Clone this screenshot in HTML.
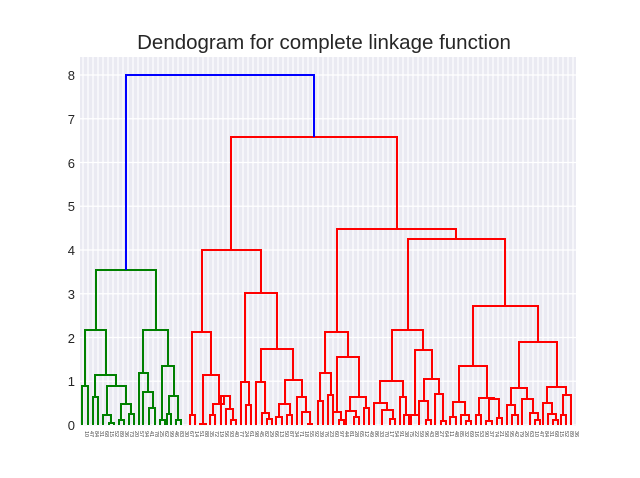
<!DOCTYPE html>
<html><head><meta charset="utf-8"><style>
html,body{margin:0;padding:0;background:#fff;}
svg{display:block;}
</style></head><body>
<svg id="s" width="640" height="478" xmlns="http://www.w3.org/2000/svg" font-family="Liberation Sans, sans-serif">
<rect x="80" y="57" width="496" height="369" fill="#eaeaf2"/>
<g id="grid" stroke="#fff" stroke-width="1.2"></g>
<g id="lines" fill="none" stroke-width="2"></g>
<g id="labs" fill="#262626" font-size="13" text-anchor="end">
<text x="75" y="430">0</text><text x="75" y="386">1</text><text x="75" y="343">2</text><text x="75" y="299">3</text><text x="75" y="255">4</text><text x="75" y="211">5</text><text x="75" y="168">6</text><text x="75" y="124">7</text><text x="75" y="80">8</text>
</g>
<g id="leaf" fill="#444" font-size="5.5"></g>
<text x="324" y="49" font-size="20.5" fill="#262626" text-anchor="middle">Dendogram for complete linkage function</text>
</svg>
<script>
var NS="http://www.w3.org/2000/svg";
function el(p,t,a){var e=document.createElementNS(NS,t);for(var k in a)e.setAttribute(k,a[k]);p.appendChild(e);return e;}
var g=document.getElementById('grid');
for(var k=0;k<=8;k++){var y=425-43.75*k;el(g,'line',{x1:80,x2:576,y1:y,y2:y});}
for(var x=83;x<576;x+=5){el(g,'line',{x1:x,x2:x,y1:57,y2:426});}
var lf=document.getElementById('leaf');
for(var x=83,i=0;x<576;x+=5,i++){var t=el(lf,'text',{transform:'translate('+(x+1.8)+',431) rotate(90)'});t.textContent=String(10+(i*37)%90);}
var green=[[96,156,270,330,330],[85,106,330,386,375],[82,88,386,425,425],[95,116,375,397,386],[93,98,397,425,425],[107,126,386,415,404],[103,111,415,425,423],[109,114,423,425,425],[121,131,404,420,414],[119,124,420,425,425],[129,134,414,425,425],[143,168,330,373,366],[139,148,373,425,392],[143,153,392,425,408],[149,155,408,425,425],[162,174,366,420,396],[160,165,420,425,425],[169,178,396,414,420],[167,171,414,425,425],[176,181,420,425,425]];
var blue=[[126,314,75,270,137]];
var red=[[231,397,137,250,229],[202,261,250,332,293],[192,211,332,415,375],[190,195,415,425,425],[203,219,375,424,404],[200,206,424,425,425],[213,224,404,415,396],[210,215,415,425,425],[221,230,396,425,409],[226,233,409,425,420],[231,236,420,425,425],[245,277,293,382,349],[241,249,382,425,405],[246,251,405,425,425],[261,293,349,382,380],[256,265,382,425,413],[262,269,413,425,419],[267,272,419,425,425],[285,302,380,404,397],[279,290,404,417,415],[276,282,417,425,425],[287,292,415,425,425],[297,306,397,425,412],[302,310,412,425,424],[308,312,424,425,425],[337,456,229,332,239],[325,348,332,373,357],[320,331,373,401,395],[318,323,401,425,425],[328,333,395,425,425],[337,359,357,412,397],[333,341,412,425,420],[339,344,420,425,425],[350,366,397,411,408],[346,356,411,425,417],[354,359,417,425,425],[364,369,408,425,425],[408,505,239,330,306],[392,423,330,381,350],[380,403,381,403,397],[374,387,403,425,410],[382,393,410,425,419],[390,395,419,425,425],[400,406,397,425,415],[404,409,415,425,425],[415,432,350,415,379],[411,419,415,425,425],[424,439,379,401,394],[419,428,401,425,420],[426,431,420,425,425],[435,443,394,425,421],[441,446,421,425,425],[473,538,306,366,342],[459,487,366,402,398],[453,465,402,417,415],[450,456,417,425,425],[461,469,415,425,421],[466,471,421,425,425],[479,494,398,415,399],[476,481,415,425,425],[489,499,399,421,418],[486,492,421,425,425],[497,502,418,425,425],[519,557,342,388,387],[511,527,388,405,399],[507,515,405,425,415],[512,518,415,425,425],[522,533,399,425,413],[530,538,413,425,420],[535,540,420,425,425],[547,566,387,403,395],[543,552,403,425,414],[548,556,414,425,420],[553,558,420,425,425],[563,571,395,415,425],[561,566,415,425,425]];
var L=document.getElementById('lines');
function draw(a,c){a.forEach(function(u){el(L,'path',{d:'M'+u[0]+' '+u[3]+'V'+u[2]+'H'+u[1]+'V'+u[4],stroke:c});});}
draw(green,'#008000');draw(red,'#ff0000');draw(blue,'#0000ff');
</script>
</body></html>
